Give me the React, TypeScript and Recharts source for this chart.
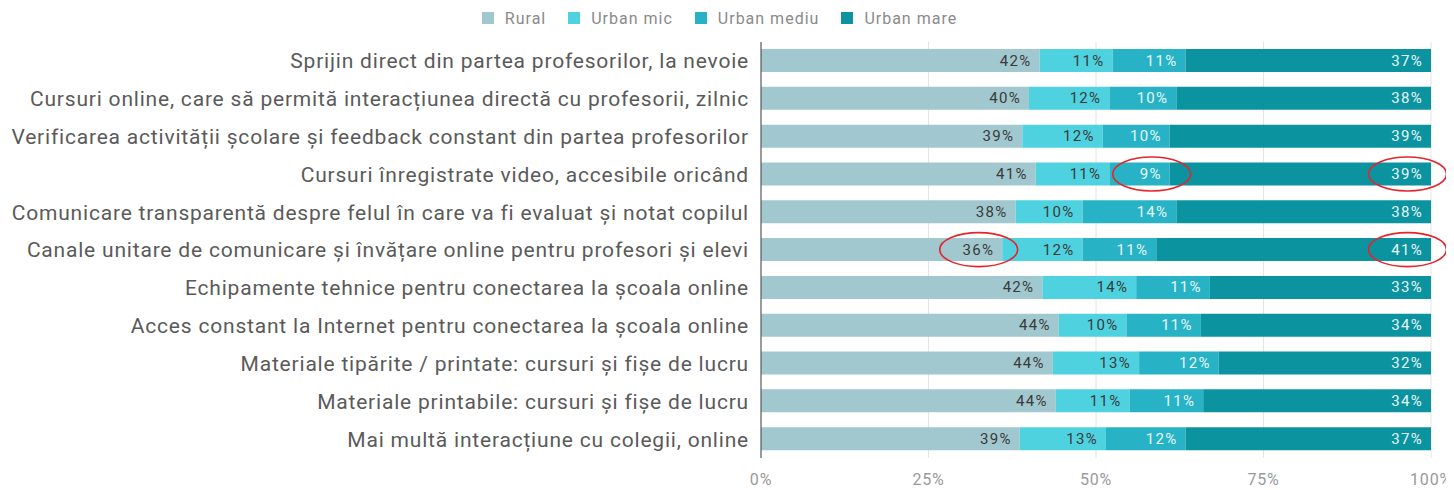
import React from "react";
import {
  Bar,
  BarChart,
  CartesianGrid,
  LabelList,
  Legend,
  XAxis,
  YAxis,
} from "recharts";

const categories = [
  "Sprijin direct din partea profesorilor, la nevoie",
  "Cursuri online, care să permită interacțiunea directă cu profesorii, zilnic",
  "Verificarea activității școlare și feedback constant din partea profesorilor",
  "Cursuri înregistrate video, accesibile oricând",
  "Comunicare transparentă despre felul în care va fi evaluat și notat copilul",
  "Canale unitare de comunicare și învățare online pentru profesori și elevi",
  "Echipamente tehnice pentru conectarea la școala online",
  "Acces constant la Internet pentru conectarea la școala online",
  "Materiale tipărite / printate: cursuri și fișe de lucru",
  "Materiale printabile: cursuri și fișe de lucru",
  "Mai multă interacțiune cu colegii, online",
];

const rural = [42, 40, 39, 41, 38, 36, 42, 44, 44, 44, 39];
const urbanMic = [11, 12, 12, 11, 10, 12, 14, 10, 13, 11, 13];
const urbanMediu = [11, 10, 10, 9, 14, 11, 11, 11, 12, 11, 12];
const urbanMare = [37, 38, 39, 39, 38, 41, 33, 34, 32, 34, 37];

const xTicks = [0, 0.25, 0.5, 0.75, 1];

// cells circled in red on the original
const circled = [
  { row: 3, key: "mediu" },
  { row: 3, key: "mare" },
  { row: 5, key: "rural" },
  { row: 5, key: "mare" },
];

const data = categories.map((name, i) => ({
  name,
  rural: rural[i],
  mic: urbanMic[i],
  mediu: urbanMediu[i],
  mare: urbanMare[i],
}));

const series = [
  { key: "rural", name: "Rural", color: "#a1c8ce", text: "#3a3a3a" },
  { key: "mic", name: "Urban mic", color: "#4fd2e0", text: "#3a3a3a" },
  { key: "mediu", name: "Urban mediu", color: "#27b3c5", text: "#e6f7f9" },
  { key: "mare", name: "Urban mare", color: "#0b939f", text: "#e6f7f9" },
];

const makeLabel = (key: string, fill: string) => (props: any) => {
  const { x, y, width, height, value, index } = props;
  const right = x + width - 8;
  const cy = y + height / 2;
  const txt = `${value}%`;
  const tw = txt.length * 11;
  const hit = circled.some((c) => c.row === index && c.key === key);
  return (
    <g>
      <text
        x={right}
        y={cy}
        textAnchor="end"
        dominantBaseline="central"
        fill={fill}
        fontSize={15}
        letterSpacing={1.3}
        fontFamily="Roboto"
      >
        {txt}
      </text>
      {hit && (
        <ellipse
          cx={right - tw / 2 + 1}
          cy={cy}
          rx={39}
          ry={17}
          fill="none"
          stroke="#e3262b"
          strokeWidth={1.6}
        />
      )}
    </g>
  );
};

const renderLegend = () => (
  <div
    style={{
      display: "flex",
      justifyContent: "center",
      gap: 22,
      height: 22,
      alignItems: "center",
      fontFamily: "Roboto",
      fontSize: 16,
      letterSpacing: 1,
      color: "#8a8a8a",
    }}
  >
    {series.map((s) => (
      <div key={s.key} style={{ display: "flex", alignItems: "center" }}>
        <span
          style={{
            width: 12,
            height: 12,
            background: s.color,
            display: "inline-block",
            marginRight: 11,
          }}
        />
        {s.name}
      </div>
    ))}
  </div>
);

export default function App() {
  return (
    <div style={{ width: 1446, height: 482, fontFamily: "Roboto" }}>
      <BarChart
        width={1446}
        height={482}
        data={data}
        layout="vertical"
        stackOffset="expand"
        margin={{ top: 12, right: 23, bottom: 2, left: 0 }}
      >
        <CartesianGrid horizontal={false} stroke="#e4e4e4" />
        <XAxis
          type="number"
          domain={[0, 1]}
          ticks={xTicks}
          tickFormatter={(v: number) => `${Math.round(v * 100)}%`}
          axisLine={false}
          tickLine={false}
          tickMargin={10}
          height={30}
          tick={{ fill: "#9a9a9a", fontSize: 16, letterSpacing: 0.8 }}
        />
        <YAxis
          type="category"
          dataKey="name"
          width={753}
          tickLine={false}
          tickMargin={6}
          axisLine={{ stroke: "#444" }}
          interval={0}
          tick={{ fill: "#5a5a5a", fontSize: 21, letterSpacing: 0.8 }}
        />
        <Legend
          verticalAlign="top"
          align="center"
          wrapperStyle={{ top: -1 }}
          content={renderLegend}
        />
        {series.map((s) => (
          <Bar
            key={s.key}
            dataKey={s.key}
            name={s.name}
            stackId="a"
            fill={s.color}
            barSize={23}
            isAnimationActive={false}
          >
            <LabelList dataKey={s.key} content={makeLabel(s.key, s.text)} />
          </Bar>
        ))}
      </BarChart>
    </div>
  );
}
